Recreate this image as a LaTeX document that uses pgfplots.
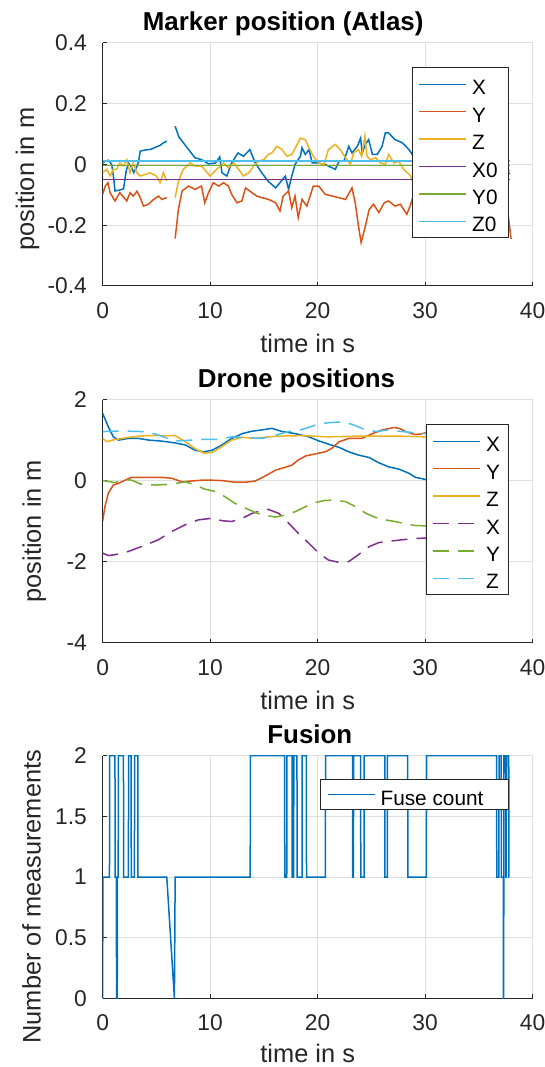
\documentclass[border=0pt]{standalone}
\usepackage{fontspec}
\setmainfont{Liberation Sans}
\usepackage{pgfplots}
\pgfplotsset{compat=1.18}
\definecolor{c1}{HTML}{0072BD}
\definecolor{c2}{HTML}{D95319}
\definecolor{c3}{HTML}{EDB120}
\definecolor{c4}{HTML}{7E2F8E}
\definecolor{c5}{HTML}{77AC30}
\definecolor{c6}{HTML}{4DBEEE}
\definecolor{axgray}{HTML}{262626}
\definecolor{gridgray}{HTML}{DFDFDF}
\newcommand\ticksize{\fontsize{11.4pt}{13pt}\selectfont}
\newcommand\labsize{\fontsize{12.7pt}{14pt}\selectfont}
\newcommand\titsize{\fontsize{12.95pt}{14pt}\selectfont\bfseries}
\newcommand\legsize{\fontsize{10.4pt}{12pt}\selectfont}
\newcommand\lstrut{\rule[-3.2pt]{0pt}{15.4pt}}
\newcommand\lent[2]{\makebox[#1][l]{\lstrut #2}}
\pgfplotsset{
  mstyle/.style={
    scale only axis, width=215pt, xmin=0, xmax=40,
    axis x line*=bottom, axis y line*=left,
    axis line style={axgray, line width=0.5pt, -},
    tick align=inside, major tick length=2.15pt,
    every tick/.style={axgray, line width=0.5pt},
    grid=major, grid style={gridgray, line width=0.5pt},
    tick label style={font=\ticksize, text=axgray},
    xtick={0,10,20,30,40}, xticklabels={0,10,20,30,40},
    xticklabel style={inner sep=0pt, anchor=north, yshift=-7.85pt},
    yticklabel style={inner sep=0pt, anchor=east, xshift=-7.65pt},
    xlabel={time in s},
    xlabel style={at={(axis description cs:0.477,0)}, anchor=base, yshift=-33.35pt, font=\labsize, text=axgray, inner sep=0pt},
    every axis title shift=0pt,
    title style={anchor=base, yshift=6pt, font=\titsize, inner sep=0pt},
    ylabel style={anchor=base, font=\labsize, text=axgray, inner sep=0pt},
    legend cell align=left,
    legend style={anchor=north east, draw=axgray, line width=0.5pt, fill=white,
      inner xsep=3.35pt, inner ysep=1.5pt, row sep=0pt, column sep=2.5pt,
      nodes={inner sep=0pt, font=\legsize}},
    legend image code/.code={\draw[line width=0.7pt,#1] (0pt,0pt) -- (23.5pt,0pt);},
    unbounded coords=jump,
  },
  dl/.style={line width=0.75pt},
  dsh/.style={line width=0.75pt, dash pattern=on 8pt off 4.5pt},
}
\begin{document}
\begin{tikzpicture}
\useasboundingbox (0,0) rectangle (272.5pt,533.5pt);
% ---------------- top ----------------
\begin{axis}[mstyle, at={(51.3pt,390.5pt)}, anchor=south west, height=121.5pt,
  ymin=-0.4, ymax=0.4, ytick={-0.4,-0.2,0,0.2,0.4}, yticklabels={-0.4,-0.2,0,0.2,0.4},
  title={Marker position (Atlas)}, title style={at={(axis description cs:0.42,1)}},
  ylabel={position in m}, ylabel style={at={(axis description cs:-0.1595,0.44)}},
  legend style={at={(axis description cs:0.945,0.901)}}]
\addplot[dl, c1] coordinates {(0,0.005)(0.25,0.011)(0.55,0.014)(0.85,0.0)(1.05,-0.05)(1.15,-0.087)(1.5,-0.085)(1.95,-0.08)(2.2,-0.02)(2.4,0.005)(2.7,-0.01)(2.9,-0.027)(3.15,-0.01)(3.35,0.01)(3.5,0.044)(4.0,0.048)(4.5,0.05)(5.0,0.058)(5.3,0.062)(5.6,0.07)(5.97,0.077)(6.3,nan)
(6.75,0.126)(7.1,0.09)(7.4,0.077)(8.0,0.049)(8.6,0.022)(9.2,0.016)(9.85,0.002)(10.5,0.005)(10.9,0.025)(11.1,-0.027)(11.56,-0.038)(12.0,0.005)(12.6,0.038)(13.1,0.027)(13.7,0.049)(14.2,0.005)(14.8,-0.027)(15.4,-0.055)(16.1,-0.077)(16.5,-0.06)(17.0,-0.038)(17.3,-0.082)(17.6,-0.038)(17.9,0.0)(18.4,0.027)(18.55,0.055)(18.85,0.033)(19.2,0.049)(19.5,0.005)(20.1,0.005)(20.7,0.0)(21.65,-0.016)(22.0,0.011)(22.45,0.011)(22.9,0.06)(23.2,0.038)(23.7,0.06)(24.0,0.087)(24.15,0.038)(24.45,0.066)(24.75,0.082)(25.1,0.033)(25.55,0.033)(26.0,0.06)(26.3,0.104)(26.6,0.104)(26.9,0.093)(27.2,0.082)(27.9,0.071)(28.5,0.049)(29.0,0.022)
(29.5,0.0)(30.5,-0.03)(31.5,-0.05)(32.5,-0.02)(33.5,0.01)(34.5,-0.02)(35.5,-0.04)(36.5,-0.01)(37.9,-0.03)};
\addlegendentry{\lent{14.8pt}{X}}
\addplot[dl, c2] coordinates {(0,-0.098)(0.25,-0.071)(0.5,-0.06)(0.7,-0.093)(1.15,-0.12)(1.6,-0.093)(2.25,-0.12)(2.55,-0.093)(2.85,-0.104)(3.2,-0.088)(3.5,-0.109)(3.8,-0.137)(4.25,-0.131)(4.75,-0.115)(5.2,-0.104)(5.5,-0.115)(5.97,-0.109)(6.3,nan)
(6.75,-0.244)(7.05,-0.148)(7.4,-0.087)(8.0,-0.071)(8.6,-0.082)(9.2,-0.071)(9.5,-0.126)(9.85,-0.093)(10.3,-0.06)(10.8,-0.071)(11.25,-0.06)(11.7,-0.071)(12.0,-0.098)(12.5,-0.126)(12.95,-0.12)(13.3,-0.077)(13.9,-0.093)(14.35,-0.104)(14.8,-0.109)(15.45,-0.115)(16.1,-0.126)(16.5,-0.153)(16.8,-0.104)(17.3,-0.087)(17.6,-0.142)(17.9,-0.104)(18.2,-0.175)(18.55,-0.115)(19.0,-0.137)(19.6,-0.071)(20.1,-0.071)(20.7,-0.098)(21.35,-0.104)(21.95,-0.109)(22.6,-0.115)(23.2,-0.077)(23.5,-0.126)(23.8,-0.202)(24.05,-0.257)(24.45,-0.202)(24.8,-0.148)(25.2,-0.131)(25.7,-0.158)(26.2,-0.126)(26.6,-0.12)(27.2,-0.137)(27.7,-0.131)(28.3,-0.164)(28.6,-0.137)(29.0,-0.093)
(29.5,-0.08)(30.5,-0.1)(31.5,-0.09)(32.5,-0.12)(33.5,-0.1)(34.5,-0.11)(35.5,-0.09)(36.5,-0.12)(37.6,-0.13)(38.0,-0.245)};
\addlegendentry{\lent{14.8pt}{Y}}
\addplot[dl, c3] coordinates {(0,-0.027)(0.4,-0.016)(0.7,-0.038)(1.0,-0.016)(1.3,-0.016)(1.6,0.005)(1.95,-0.005)(2.25,0.016)(2.55,-0.027)(2.85,0.005)(3.2,-0.027)(3.5,-0.038)(3.95,-0.033)(4.4,-0.027)(5.0,-0.038)(5.35,-0.06)(5.65,-0.027)(5.97,-0.055)(6.3,nan)
(6.75,-0.109)(7.05,-0.055)(7.5,-0.016)(8.15,0.005)(8.6,-0.005)(9.2,-0.005)(10.0,-0.038)(10.6,-0.016)(11.25,0.005)(11.7,-0.011)(12.2,0.005)(12.65,-0.016)(13.1,-0.038)(13.6,-0.027)(14.05,-0.005)(14.5,0.011)(15.0,0.016)(15.4,0.033)(15.75,0.038)(16.2,0.06)(16.7,0.049)(17.15,0.027)(17.6,0.033)(18.1,0.066)(18.4,0.087)(18.85,0.082)(19.2,0.055)(19.6,0.027)(20.1,0.005)(20.6,0.0)(21.0,0.049)(21.65,0.066)(22.1,0.049)(22.6,0.022)(23.05,0.0)(23.35,0.038)(23.8,0.049)(24.1,0.027)(24.4,0.093)(24.6,0.027)(24.9,0.016)(25.4,0.022)(25.85,0.005)(26.3,0.0)(26.6,0.033)(27.1,0.005)(27.55,0.011)(28.0,-0.016)(28.35,-0.027)(28.65,-0.038)(29.0,-0.071)
(29.5,-0.05)(30.5,-0.02)(31.5,0.0)(32.5,-0.03)(33.5,-0.01)(34.5,0.01)(35.5,-0.02)(36.5,0.0)(37.9,-0.02)};
\addlegendentry{\lent{14.8pt}{Z}}
\addplot[dl, c4] coordinates {(0,-0.05)(37.9,-0.05)};
\addlegendentry{\lent{14.8pt}{X0}}
\addplot[dl, c5] coordinates {(0,-0.003)(37.9,-0.003)};
\addlegendentry{\lent{14.8pt}{Y0}}
\addplot[dl, c6] coordinates {(0,0.011)(37.9,0.011)};
\addlegendentry{\lent{14.8pt}{Z0}}
\end{axis}
% ---------------- middle ----------------
\begin{axis}[mstyle, at={(51.3pt,212pt)}, anchor=south west, height=121.5pt,
  ymin=-4, ymax=2, ytick={-4,-2,0,2}, yticklabels={-4,-2,0,2},
  title={Drone positions}, title style={at={(axis description cs:0.451,1)}},
  ylabel={position in m}, ylabel style={at={(axis description cs:-0.1433,0.46)}},
  legend style={at={(axis description cs:0.945,0.901)}}]
\addplot[dl, c1] coordinates {(0,1.67)(0.53,1.34)(1.0,1.09)(1.47,1.01)(2.4,1.05)(3.35,1.05)(4.3,1.01)(5.5,0.985)(6.75,0.94)(7.7,0.89)(8.6,0.76)(9.4,0.72)(10.2,0.76)(11.1,0.89)(12.0,1.05)(13.0,1.17)(13.9,1.23)(14.8,1.26)(15.75,1.30)(16.7,1.22)(17.9,1.17)(19.2,1.09)(20.1,0.99)(21.0,0.91)(22.0,0.83)(22.9,0.72)(23.8,0.64)(24.8,0.58)(25.7,0.45)(26.6,0.35)(27.6,0.29)(28.5,0.19)(29.1,0.09)(30.0,0.04)(30.3,0.02)(31.5,-0.08)(33,-0.2)(34.5,-0.3)(36,-0.35)(37.8,-0.4)};
\addlegendentry{\lent{7.8pt}{X}}
\addplot[dl, c2] coordinates {(0,-1.0)(0.22,-0.63)(0.53,-0.30)(1.0,-0.1)(1.47,-0.06)(2.1,0.02)(2.7,0.09)(3.65,0.09)(4.6,0.09)(5.5,0.09)(6.4,0.07)(7.4,-0.02)(8.3,0.0)(9.2,0.02)(10.2,0.02)(11.1,0.01)(12.3,-0.03)(13.3,-0.03)(14.2,0.0)(15.1,0.12)(16.1,0.27)(17.0,0.34)(17.6,0.39)(18.2,0.52)(18.9,0.62)(19.8,0.67)(20.7,0.72)(21.3,0.80)(22.0,0.97)(22.9,1.05)(24.1,1.05)(25.1,1.17)(26.0,1.26)(27.1,1.32)(27.6,1.30)(28.2,1.22)(29.0,1.15)(29.6,1.16)(30.3,1.21)(31.5,1.25)(33,1.22)(34.5,1.2)(36,1.22)(37.8,1.2)};
\addlegendentry{\lent{7.8pt}{Y}}
\addplot[dl, c3] coordinates {(0,1.05)(0.4,0.97)(0.9,1.01)(1.8,1.05)(2.7,1.09)(4.0,1.12)(5.5,1.12)(6.75,1.12)(7.7,0.97)(8.6,0.80)(9.5,0.68)(10.3,0.72)(11.1,0.85)(12.0,1.01)(13.0,1.08)(14.2,1.05)(15.4,1.09)(16.7,1.11)(18.55,1.12)(21.0,1.09)(24.1,1.11)(27.2,1.11)(30.0,1.09)(32,1.1)(34,1.1)(36,1.1)(37.8,1.1)};
\addlegendentry{\lent{7.8pt}{Z}}
\addplot[dsh, c4] coordinates {(0,-1.78)(0.53,-1.84)(1.15,-1.82)(2.4,-1.74)(4.0,-1.58)(5.2,-1.45)(6.4,-1.25)(7.7,-1.08)(8.9,-0.96)(10.2,-0.92)(11.1,-0.98)(12.0,-1.0)(13.0,-0.92)(13.9,-0.80)(14.8,-0.73)(15.4,-0.70)(16.4,-0.80)(17.3,-1.04)(18.2,-1.29)(19.2,-1.54)(20.1,-1.78)(21.0,-1.95)(22.0,-2.01)(22.9,-1.99)(23.8,-1.82)(24.8,-1.62)(25.7,-1.52)(26.6,-1.49)(27.9,-1.45)(29.1,-1.42)(30.0,-1.41)(32,-1.4)(34,-1.42)(36,-1.4)(37.8,-1.4)};
\addlegendentry{\lent{7.8pt}{X}}
\addplot[dsh, c5] coordinates {(0,0.01)(0.53,-0.01)(1.15,-0.04)(2.1,0.04)(2.7,0.02)(3.6,-0.08)(4.9,-0.1)(6.4,-0.08)(7.7,-0.02)(8.6,-0.1)(9.5,-0.2)(10.5,-0.26)(11.4,-0.39)(12.3,-0.55)(13.3,-0.67)(14.2,-0.78)(15.1,-0.85)(16.1,-0.89)(17.0,-0.84)(17.9,-0.76)(18.9,-0.63)(19.8,-0.53)(20.7,-0.48)(21.7,-0.47)(22.6,-0.51)(23.5,-0.63)(24.5,-0.80)(25.4,-0.90)(26.3,-0.96)(27.2,-1.0)(28.2,-1.06)(29.1,-1.10)(30.3,-1.11)(32,-1.12)(34,-1.1)(36,-1.12)(37.8,-1.1)};
\addlegendentry{\lent{7.8pt}{Y}}
\addplot[dsh, c6] coordinates {(0,1.22)(1.15,1.23)(2.4,1.23)(3.65,1.22)(4.9,1.16)(6.1,1.05)(7.0,0.99)(8.3,1.01)(9.5,1.03)(10.8,1.03)(12.0,1.09)(13.6,1.07)(14.8,1.05)(16.1,1.13)(17.3,1.22)(18.55,1.27)(19.8,1.38)(21.0,1.44)(22.3,1.46)(23.2,1.40)(24.1,1.30)(25.4,1.22)(26.6,1.26)(27.9,1.22)(29.1,1.19)(30.0,1.17)(32,1.2)(34,1.22)(36,1.2)(37.8,1.2)};
\addlegendentry{\lent{7.8pt}{Z}}
\end{axis}
% ---------------- bottom ----------------
\begin{axis}[mstyle, at={(51.3pt,34.35pt)}, anchor=south west, height=121.3pt,
  ymin=0, ymax=2, ytick={0,0.5,1,1.5,2}, yticklabels={0,0.5,1,1.5,2},
  title={Fusion}, title style={at={(axis description cs:0.482,1)}},
  xlabel style={yshift=1.2pt},
  ylabel={Number of measurements}, ylabel style={at={(axis description cs:-0.144,0.419)}},
  legend style={at={(axis description cs:0.945,0.903)}, inner ysep=0.6pt}]
\addplot[dl, c1] coordinates {(0,0)(0.03,1)(0.64,1)(0.66,2)(1.15,2)(1.17,1)(1.28,1)(1.30,0)(1.36,0)(1.38,1)(1.45,1)(1.47,2)(1.94,2)(1.96,1)(2.4,1)(2.42,2)(2.65,2)(2.67,1)(2.96,1)(2.98,2)(3.27,2)(3.29,1)(5.97,1)(6.68,0)(6.75,1)(13.73,1)(13.75,2)(16.93,2)(16.95,1)(17.13,1)(17.15,2)(17.62,2)(17.64,1)(17.77,1)(17.79,2)(18.08,2)(18.1,1)(18.55,1)(18.57,2)(18.95,2)(18.97,1)(20.72,1)(20.74,2)(23.25,2)(23.27,1)(23.33,1)(23.35,2)(24.0,2)(24.02,1)(24.32,1)(24.34,2)(26.25,2)(26.27,1)(26.48,1)(26.5,2)(28.38,2)(28.4,1)(30.12,1)(30.14,2)(36.65,2)(36.67,1)(36.86,1)(36.88,2)(37.08,2)(37.1,1)(37.27,1)(37.29,0)(37.31,0)(37.33,2)(37.5,2)(37.52,1)(37.56,1)(37.58,2)(37.78,2)(37.8,1)(37.85,1)};
\addlegendentry{\lent{60.6pt}{Fuse count}}
\end{axis}
\end{tikzpicture}
\end{document}
